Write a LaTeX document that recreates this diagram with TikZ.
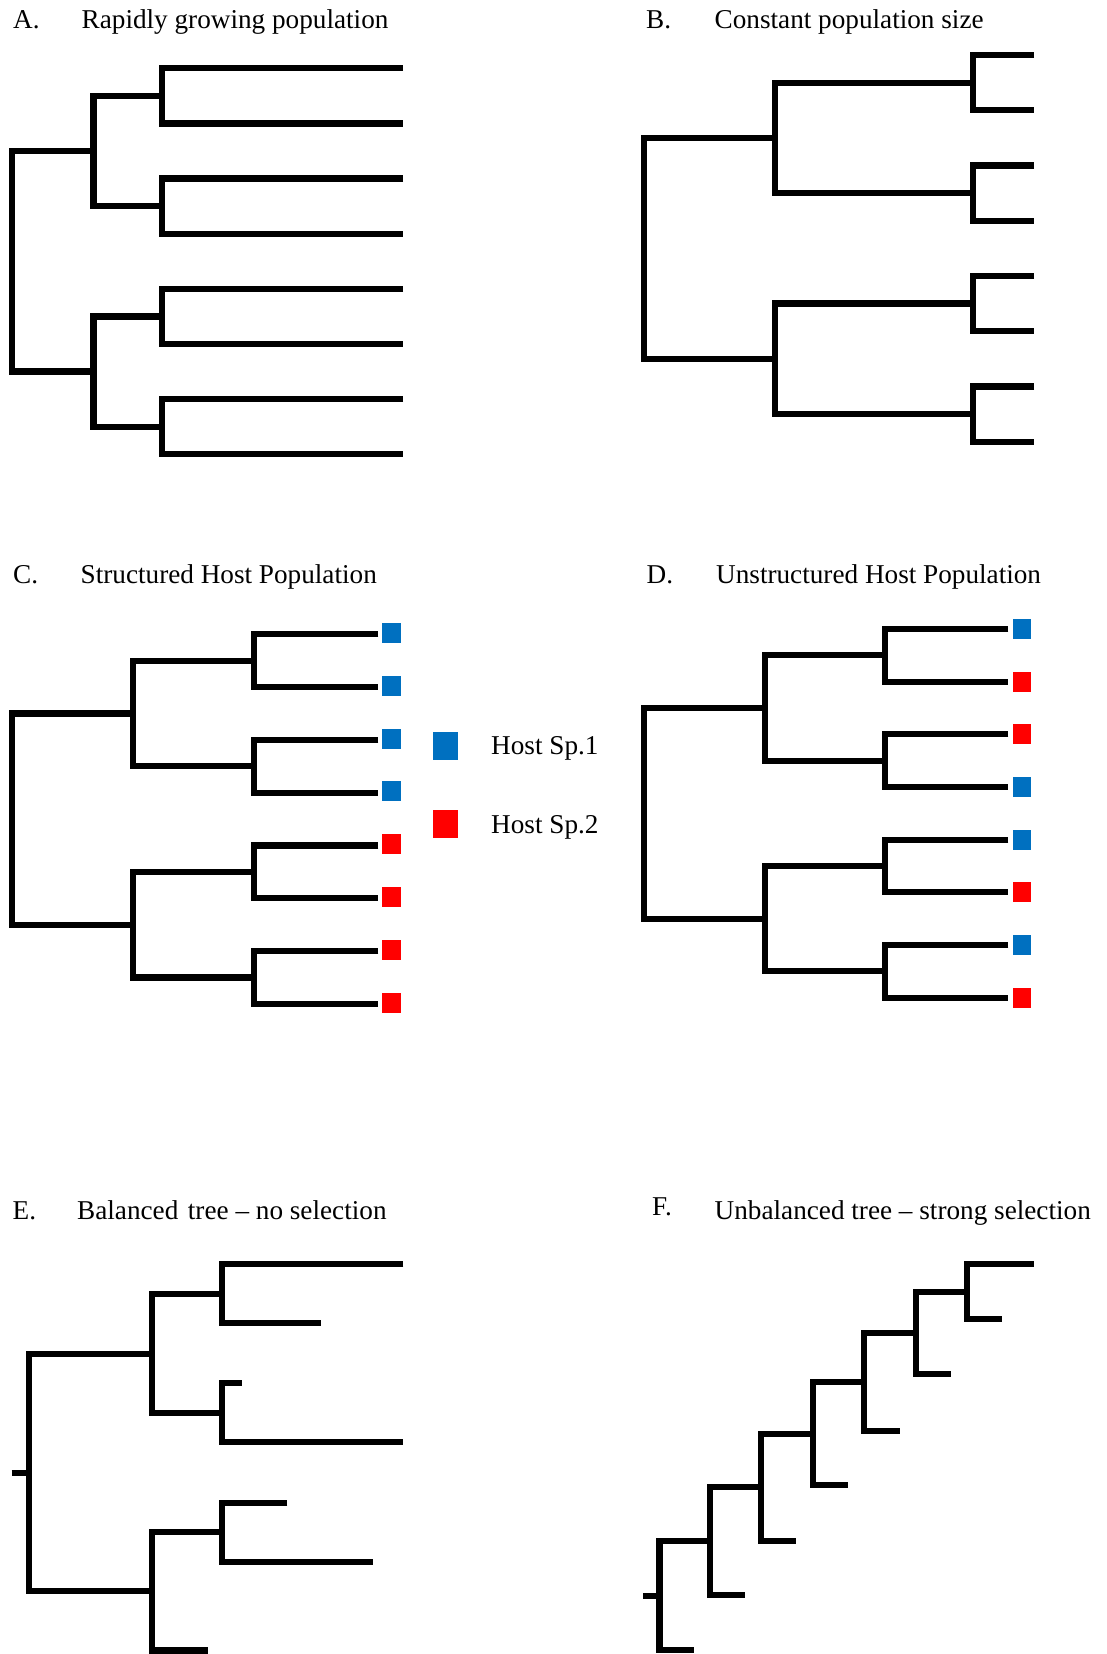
\documentclass[tikz,border=0pt]{standalone}
\usepackage{fontspec}
\setmainfont{Liberation Serif}
\definecolor{hostblue}{RGB}{0,112,192}
\definecolor{hostred}{RGB}{255,0,0}
\tikzset{
  branch/.style={line width=6.2pt, line join=miter, line cap=butt},
  paneltitle/.style={anchor=base west, inner sep=0pt, font=\fontsize{27.2}{32}\selectfont},
  tipsq/.style={minimum width=18.4pt, minimum height=20pt, inner sep=0pt, draw=none},
  keysq/.style={minimum width=25pt, minimum height=28pt, inner sep=0pt, draw=none},
}
% Balanced tree with eight tips:
% #1 name prefix, #2 root x, #3 second-level x, #4 cherry x, #5 tip x, #6 first tip y, #7 tip spacing
\newcommand\eighttree[7]{%
  \foreach \k in {1,...,8} {\coordinate (#1l\k) at (#5, {#6+(\k-1)*#7});}
  \foreach \k in {1,...,4} {\coordinate (#1i\k) at (#4, {#6+(2*\k-1.5)*#7});}
  \coordinate (#1m1) at (#3, {#6+1.5*#7});
  \coordinate (#1m2) at (#3, {#6+5.5*#7});
  \coordinate (#1r) at (#2, {#6+3.5*#7});
  \foreach \k [evaluate=\k as \a using int(2*\k-1), evaluate=\k as \b using int(2*\k)] in {1,...,4}
    {\draw[branch] (#1l\a) -| (#1i\k) |- (#1l\b);}
  \draw[branch] (#1i1) -| (#1m1) |- (#1i2);
  \draw[branch] (#1i3) -| (#1m2) |- (#1i4);
  \draw[branch] (#1m1) -| (#1r) |- (#1m2);
}
\begin{document}
\begin{tikzpicture}[x=1pt, y=-1pt]
\fill[white] (0,0) rectangle (1106,1654);
\useasboundingbox (0,0) rectangle (1106,1654);

% ---- A: rapidly growing population
\node[paneltitle] (A-lab) at (13,28.3) {A.};
\node[paneltitle] (A-tit) at (81.5,28.3) {Rapidly growing population};
\eighttree{A-}{11.8}{93.5}{162.3}{403}{68.3}{55.14}

% ---- B: constant population size
\node[paneltitle] (B-lab) at (646,28.3) {B.};
\node[paneltitle] (B-tit) at (714.5,28.3) {Constant population size};
\eighttree{B-}{643.8}{775}{972.7}{1034}{55}{55.24}

% ---- C: structured host population
\node[paneltitle] (C-lab) at (13,583) {C.};
\node[paneltitle] (C-tit) at (80.5,583) {Structured Host Population};
\eighttree{C-}{12}{133}{254}{378.3}{634.3}{52.8}
\foreach \k/\c in {1/hostblue,2/hostblue,3/hostblue,4/hostblue,5/hostred,6/hostred,7/hostred,8/hostred}
  {\node[tipsq, fill=\c] (C-s\k) at (391.5, {633+(\k-1)*52.8}) {};}

% legend
\node[keysq, fill=hostblue] (key1) at (445.3,746) {};
\node[keysq, fill=hostred] (key2) at (445,823.5) {};
\node[paneltitle] (key1-t) at (491,754) {Host Sp.1};
\node[paneltitle] (key2-t) at (491,833.3) {Host Sp.2};

% ---- D: unstructured host population
\node[paneltitle] (D-lab) at (646.5,583) {D.};
\node[paneltitle] (D-tit) at (716,583) {Unstructured Host Population};
\eighttree{D-}{643.8}{764.8}{885}{1008.3}{629}{52.67}
\foreach \k/\c in {1/hostblue,2/hostred,3/hostred,4/hostblue,5/hostblue,6/hostred,7/hostblue,8/hostred}
  {\node[tipsq, fill=\c] (D-s\k) at (1021.85, {629+(\k-1)*52.67}) {};}

% ---- E: balanced tree
\node[paneltitle] (E-lab) at (12.5,1219.3) {E.};
\node[paneltitle] (E-tit) at (77,1219.3) {Balanced\hspace{0.1em} tree -- no selection};
\coordinate (E-st) at (11.7,1472.8);
\coordinate (E-r)  at (29.3,1472.8);
\coordinate (E-m1) at (152,1354);
\coordinate (E-m2) at (152,1591.3);
\coordinate (E-i1) at (221.7,1293.8);
\coordinate (E-i2) at (221.7,1412.8);
\coordinate (E-i3) at (221.7,1532.3);
\coordinate (E-l1) at (403.3,1264.3);
\coordinate (E-l2) at (320.7,1323.3);
\coordinate (E-l3) at (241.7,1383.3);
\coordinate (E-l4) at (403.3,1442.3);
\coordinate (E-l5) at (287.3,1502.7);
\coordinate (E-l6) at (372.7,1562);
\coordinate (E-l7) at (208.3,1650.5);
\draw[branch] (E-st) -- (E-r);
\draw[branch] (E-m1) -| (E-r) |- (E-m2);
\draw[branch] (E-i1) -| (E-m1) |- (E-i2);
\draw[branch] (E-i3) -| (E-m2) |- (E-l7);
\draw[branch] (E-l1) -| (E-i1) |- (E-l2);
\draw[branch] (E-l3) -| (E-i2) |- (E-l4);
\draw[branch] (E-l5) -| (E-i3) |- (E-l6);

% ---- F: unbalanced (ladder-like) tree
\node[paneltitle] (F-lab) at (652,1215) {F.};
\node[paneltitle] (F-tit) at (714.5,1219.3) {Unbalanced tree -- strong selection};
\coordinate (F-n6) at (967,1291.8);
\coordinate (F-n5) at (915.7,1333.05);
\coordinate (F-n4) at (864.3,1381.9);
\coordinate (F-n3) at (813.3,1433.6);
\coordinate (F-n2) at (761.3,1487.3);
\coordinate (F-n1) at (710,1541.3);
\coordinate (F-n0) at (659.5,1595.8);
\coordinate (F-st) at (643.3,1595.8);
\coordinate (F-top) at (1033.7,1264.3);
\coordinate (F-t6) at (1002.3,1319.3);
\coordinate (F-t5) at (951,1374.3);
\coordinate (F-t4) at (900,1430.7);
\coordinate (F-t3) at (847.7,1485.3);
\coordinate (F-t2) at (796,1541);
\coordinate (F-t1) at (745.3,1595.3);
\coordinate (F-t0) at (694,1650.3);
\draw[branch] (F-st) -- (F-n0);
\draw[branch] (F-top) -| (F-n6) |- (F-t6);
\draw[branch] (F-n6) -| (F-n5) |- (F-t5);
\draw[branch] (F-n5) -| (F-n4) |- (F-t4);
\draw[branch] (F-n4) -| (F-n3) |- (F-t3);
\draw[branch] (F-n3) -| (F-n2) |- (F-t2);
\draw[branch] (F-n2) -| (F-n1) |- (F-t1);
\draw[branch] (F-n1) -| (F-n0) |- (F-t0);
\end{tikzpicture}
\end{document}
